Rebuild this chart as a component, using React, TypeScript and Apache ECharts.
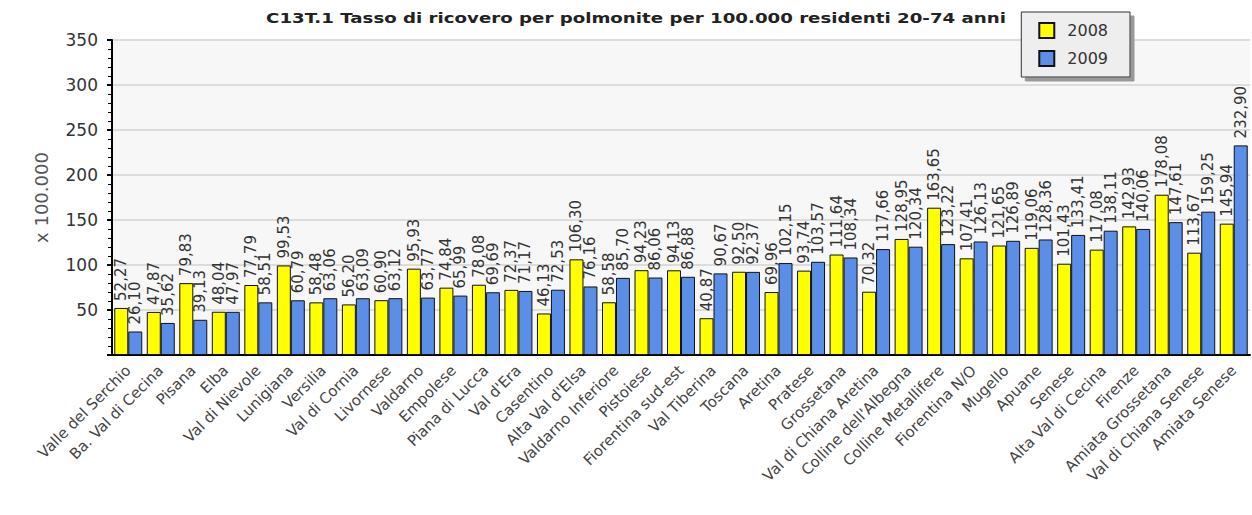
import React, { useEffect, useRef } from "react";
import * as echarts from "echarts";

const categories = [
  "Valle del Serchio", "Ba. Val di Cecina", "Pisana", "Elba", "Val di Nievole", "Lunigiana",
  "Versilia", "Val di Cornia", "Livornese", "Valdarno", "Empolese", "Piana di Lucca",
  "Val d'Era", "Casentino", "Alta Val d'Elsa", "Valdarno Inferiore", "Pistoiese",
  "Fiorentina sud-est", "Val Tiberina", "Toscana", "Aretina", "Pratese", "Grossetana",
  "Val di Chiana Aretina", "Colline dell'Albegna", "Colline Metallifere", "Fiorentina N/O",
  "Mugello", "Apuane", "Senese", "Alta Val di Cecina", "Firenze", "Amiata Grossetana",
  "Val di Chiana Senese", "Amiata Senese",
];

const values2008 = [
  52.27, 47.87, 79.83, 48.04, 77.79, 99.53, 58.48, 56.2, 60.9, 95.93, 74.84, 78.08,
  72.37, 46.13, 106.3, 58.58, 94.23, 94.13, 40.87, 92.5, 69.96, 93.74, 111.64, 70.32,
  128.95, 163.65, 107.41, 121.65, 119.06, 101.43, 117.08, 142.93, 178.08, 113.67, 145.94,
];

const values2009 = [
  26.1, 35.62, 39.13, 47.97, 58.51, 60.79, 63.06, 63.09, 63.12, 63.77, 65.99, 69.69,
  71.17, 72.53, 76.16, 85.7, 86.06, 86.88, 90.67, 92.37, 102.15, 103.57, 108.34, 117.66,
  120.34, 123.22, 126.13, 126.89, 128.36, 133.41, 138.11, 140.06, 147.61, 159.25, 232.9,
];

const seriesNames = ["2008", "2009"];
const title = "C13T.1 Tasso di ricovero per polmonite per 100.000 residenti 20-74 anni";
const yAxisName = "x 100.000";

const fmt = (v: number) => v.toFixed(2).replace(".", ",");

export default function App() {
  const ref = useRef<HTMLDivElement>(null);
  useEffect(() => {
    if (!ref.current) return;
    const chart = echarts.init(ref.current, undefined, { renderer: "svg" });
    const labelCfg = {
      show: true,
      position: "top" as const,
      rotate: 90,
      align: "left" as const,
      verticalAlign: "middle" as const,
      distance: 7,
      fontFamily: "DejaVu Sans",
      fontSize: 15,
      color: "#333",
      formatter: (p: any) => fmt(p.value),
    };
    chart.setOption({
      animation: false,
      backgroundColor: "#ffffff",
      textStyle: { fontFamily: "DejaVu Sans" },
      graphic: [
        {
          type: "text",
          x: 636,
          y: 18,
          scaleX: 1.3,
          style: {
            text: title,
            x: 0,
            y: 0,
            align: "center",
            verticalAlign: "middle",
            font: "bold 14px 'DejaVu Sans'",
            fill: "#222",
          },
        },
      ],
      legend: {
        orient: "vertical",
        right: 122,
        top: 12,
        itemWidth: 15,
        itemHeight: 15,
        itemGap: 11,
        padding: [10, 22, 10, 17],
        backgroundColor: "#eeeeee",
        borderColor: "#333",
        borderWidth: 1,
        shadowColor: "#999",
        shadowBlur: 0,
        shadowOffsetX: 4,
        shadowOffsetY: 4,
        textStyle: { fontFamily: "DejaVu Sans", fontSize: 16, color: "#333", padding: [0, 0, 0, 8] },
        data: seriesNames.map((n) => ({ name: n, icon: "rect" })),
      },
      grid: {
        left: 112,
        right: 2,
        top: 40,
        bottom: 160,
        show: true,
        backgroundColor: "#f7f7f7",
        borderWidth: 0,
      },
      xAxis: {
        type: "category",
        data: categories,
        axisLine: { show: true, lineStyle: { color: "#000", width: 2 } },
        axisTick: { show: false },
        axisLabel: {
          rotate: 45,
          interval: 0,
          margin: 13,
          fontFamily: "DejaVu Sans",
          fontSize: 15,
          color: "#444",
        },
      },
      yAxis: {
        type: "value",
        min: 0,
        max: 350,
        interval: 50,
        name: yAxisName,
        nameLocation: "middle",
        nameGap: 62,
        nameTextStyle: { fontFamily: "DejaVu Sans", fontSize: 18, color: "#555" },
        axisLine: { show: true, lineStyle: { color: "#000", width: 2 } },
        axisTick: { show: true, length: 5, lineStyle: { color: "#000", width: 2 } },
        minorTick: { show: true, splitNumber: 5, length: 4, lineStyle: { color: "#000", width: 1 } },
        splitLine: { show: true, lineStyle: { color: "#dcdcdc", width: 2 } },
        axisLabel: {
          margin: 14,
          fontFamily: "DejaVu Sans",
          fontSize: 17,
          color: "#333",
          formatter: (v: number) => (v === 0 ? "" : String(v)),
        },
      },
      series: [
        {
          name: seriesNames[0],
          type: "bar",
          data: values2008,
          barGap: "0%",
          barCategoryGap: "14%",
          itemStyle: { color: "#ffff00", borderColor: "#111", borderWidth: 1 },
          label: labelCfg,
        },
        {
          name: seriesNames[1],
          type: "bar",
          data: values2009,
          barGap: "0%",
          barCategoryGap: "14%",
          itemStyle: { color: "#5b8ee6", borderColor: "#111", borderWidth: 1 },
          label: labelCfg,
        },
      ],
    });
    return () => chart.dispose();
  }, []);
  return (
    <div
      ref={ref}
      style={{ position: "fixed", left: 0, top: 0, width: 1252, height: 515 }}
    />
  );
}
